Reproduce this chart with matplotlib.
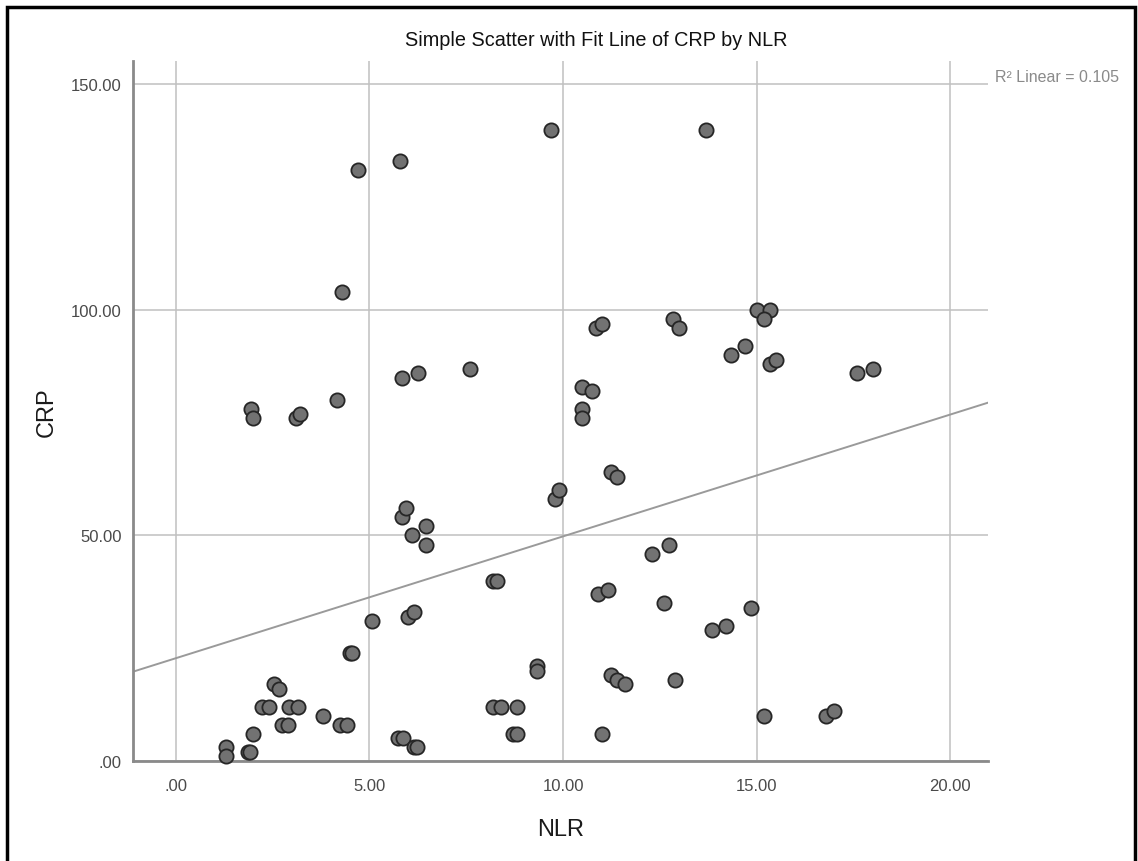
import numpy as np
import matplotlib.pyplot as plt
from matplotlib.patches import Rectangle

plt.rcParams['font.family'] = ['Liberation Sans', 'DejaVu Sans']

# NLR (x) and CRP (y)
nlr = [9.7, 13.7, 4.7, 5.8, 4.3,
       1.93, 1.99, 3.1, 3.2, 4.15,
       5.85, 6.25, 7.6,
       10.5, 10.75, 10.5, 10.5,
       10.85, 11.0, 12.85, 13.0,
       14.35, 14.7, 15.0, 15.35, 15.2, 15.35, 15.5, 17.6, 18.0,
       11.25, 11.4, 9.8, 9.9,
       5.85, 5.95, 6.1, 6.45, 6.45,
       12.3, 12.75, 8.2, 8.3,
       10.9, 11.15, 12.6, 14.85, 13.85, 14.2,
       6.0, 6.15, 5.07, 4.5, 4.55,
       9.33, 9.33, 11.25, 11.4, 11.6, 12.9,
       2.53, 2.67, 2.22, 2.4, 2.93, 3.15, 2.73, 2.9, 3.8, 4.23, 4.43,
       2.0, 1.85, 1.92, 1.3, 1.3,
       5.73, 5.87, 6.15, 6.22,
       8.2, 8.4, 8.8, 8.7, 8.8, 11.0,
       15.2, 16.8, 17.0]
crp = [140, 140, 131, 133, 104,
       78, 76, 76, 77, 80,
       85, 86, 87,
       83, 82, 78, 76,
       96, 97, 98, 96,
       90, 92, 100, 100, 98, 88, 89, 86, 87,
       64, 63, 58, 60,
       54, 56, 50, 52, 48,
       46, 48, 40, 40,
       37, 38, 35, 34, 29, 30,
       32, 33, 31, 24, 24,
       21, 20, 19, 18, 17, 18,
       17, 16, 12, 12, 12, 12, 8, 8, 10, 8, 8,
       6, 2, 2, 3, 1,
       5, 5, 3, 3,
       12, 12, 12, 6, 6, 6,
       10, 10, 11]

fit_intercept = 22.8
fit_slope = 2.7
r2_text = 'R\u00b2 Linear = 0.105'

xticks = [0, 5, 10, 15, 20]
xticklabels = ['.00', '5.00', '10.00', '15.00', '20.00']
yticks = [0, 50, 100, 150]
yticklabels = ['.00', '50.00', '100.00', '150.00']

fig = plt.figure(figsize=(11.38, 8.62), dpi=100)
W, H = 1138, 862
# axes box in pixels: left 133, right 988, top 62, bottom 762
ax = fig.add_axes([133/W, 1 - 762/H, (988-133)/W, (762-62)/H])

ax.set_xlim(-1.11, 20.98)
ax.set_ylim(0, 155.2)

ax.set_xticks(xticks)
ax.set_xticklabels(xticklabels)
ax.set_yticks(yticks)
ax.set_yticklabels(yticklabels)
ax.tick_params(length=0, labelsize=12, labelcolor='#4a4a4a', pad=8)
ax.tick_params(axis='x', pad=12)

ax.grid(True, color='#c0c0c0', linewidth=1.1)
ax.set_axisbelow(True)
for s in ['top', 'right']:
    ax.spines[s].set_visible(False)
for s in ['left', 'bottom']:
    ax.spines[s].set_color('#8a8a8a')
    ax.spines[s].set_linewidth(2)

xl = np.array(ax.get_xlim())
ax.plot(xl, fit_intercept + fit_slope*xl, color='#9a9a9a', linewidth=1.4, zorder=2)

ax.scatter(nlr, crp, s=105, facecolor='#727272', edgecolor='#262626',
           linewidth=1.3, zorder=3, clip_on=False)

ax.set_xlabel('NLR', fontsize=17, color='#1a1a1a', labelpad=18)
ax.set_ylabel('CRP', fontsize=17, color='#1a1a1a', labelpad=10)

fig.text(596/W, 1 - 41/H, 'Simple Scatter with Fit Line of CRP by NLR',
         ha='center', va='center', fontsize=14.3, color='#111111')
fig.text(995/W, 1 - 78/H, r2_text, ha='left', va='center',
         fontsize=11.5, color='#8a8a8a')

# black frame around the picture
fig.patches.append(Rectangle((7/W, -0.01), (1135-7)/W, 1.01 - 8/H,
                             transform=fig.transFigure, fill=False,
                             edgecolor='black', linewidth=2.5))

fig.savefig('out.png', dpi=100)
